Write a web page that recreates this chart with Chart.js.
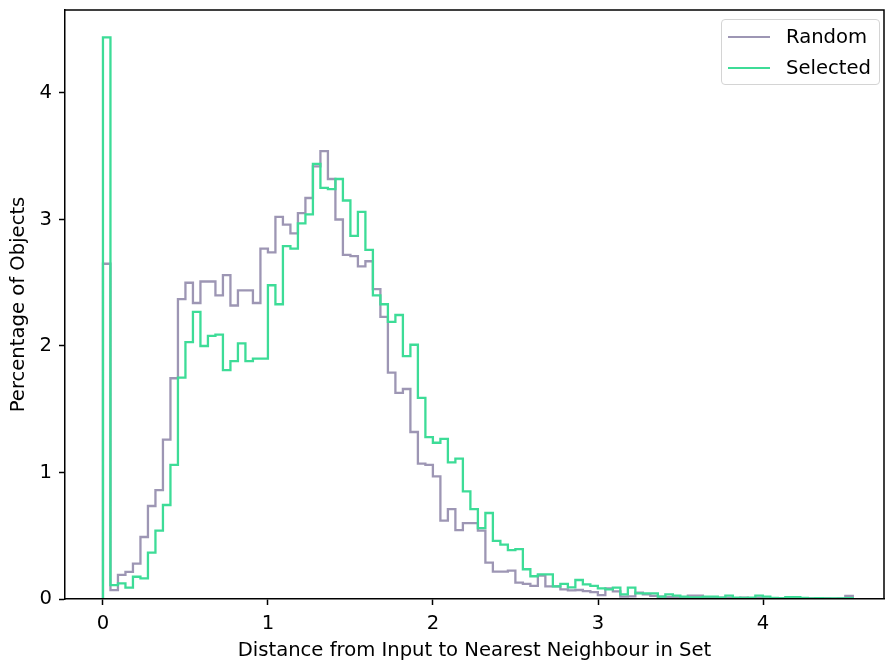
<!DOCTYPE html>
<html>
<head>
<meta charset="utf-8">
<script src="https://cdn.jsdelivr.net/npm/chart.js@4/dist/chart.umd.min.js"></script>
<style>
    body { margin: 0; background: #fff; }
    #wrap { position: relative; width: 885px; height: 664px; }
    #legend {
        position: absolute; left: 721px; top: 19px; width: 159px; height: 66px;
        box-sizing: border-box; border: 1px solid #d4d4d4; border-radius: 4px;
        background: rgba(255, 255, 255, 0.8);
        font-family: 'DejaVu Sans', sans-serif; font-size: 19.6px; color: #000;
    }
    #legend ul { list-style: none; margin: 0; padding: 5px 0 0 6px; }
    #legend li { display: flex; align-items: center; height: 23px; margin-bottom: 8px; }
</style>
</head>
<body>
<div id="wrap">
    <canvas id="chart" width="885" height="664"></canvas>
    <div id="legend"></div>
</div>
<script>
// histogram bins: 100 equal bins starting at 0
const BIN_START = 0;
const BIN_WIDTH = 0.04544;

// percentage of objects per bin
const RANDOM = [
    2.65, 0.07, 0.19, 0.215, 0.28, 0.49, 0.735, 0.86, 1.26, 1.745,
    2.37, 2.50, 2.34, 2.51, 2.51, 2.40, 2.56, 2.32, 2.44, 2.44,
    2.34, 2.77, 2.74, 3.02, 2.96, 2.89, 3.05, 3.17, 3.42, 3.54,
    3.32, 3.00, 2.72, 2.71, 2.63, 2.67, 2.45, 2.23, 1.79, 1.63,
    1.66, 1.32, 1.07, 1.06, 0.97, 0.62, 0.71, 0.545, 0.60, 0.60,
    0.54, 0.287, 0.216, 0.216, 0.224, 0.13, 0.119, 0.103, 0.184, 0.10,
    0.10, 0.076, 0.068, 0.071, 0.063, 0.055, 0.03, 0.084, 0.06, 0.018,
    0.02, 0.05, 0.037, 0.024, 0.018, 0.015, 0.012, 0.015, 0.026, 0.026,
    0.012, 0.008, 0.01, 0.008, 0.006, 0.01, 0.006, 0.008, 0.005, 0.006,
    0.004, 0.006, 0.004, 0.005, 0.004, 0.003, 0.004, 0.003, 0.004, 0.024
];
const SELECTED = [
    4.44, 0.11, 0.124, 0.09, 0.176, 0.163, 0.366, 0.54, 0.743, 1.06,
    1.75, 2.03, 2.27, 2.00, 2.08, 2.09, 1.81, 1.88, 2.02, 1.88,
    1.90, 1.90, 2.48, 2.33, 2.79, 2.77, 2.97, 3.04, 3.44, 3.25,
    3.24, 3.32, 3.15, 2.87, 3.06, 2.76, 2.40, 2.33, 2.19, 2.245,
    1.92, 2.01, 1.59, 1.28, 1.235, 1.265, 1.08, 1.11, 0.85, 0.71,
    0.56, 0.68, 0.46, 0.43, 0.387, 0.395, 0.235, 0.18, 0.195, 0.195,
    0.10, 0.12, 0.092, 0.15, 0.116, 0.103, 0.084, 0.076, 0.09, 0.037,
    0.09, 0.045, 0.045, 0.045, 0.018, 0.037, 0.026, 0.018, 0.012, 0.012,
    0.018, 0.018, 0.01, 0.026, 0.01, 0.008, 0.01, 0.026, 0.018, 0.008,
    0.006, 0.015, 0.015, 0.008, 0.005, 0.006, 0.004, 0.005, 0.004, 0.006
];

const X_TICKS = [0, 1, 2, 3, 4];
const Y_TICKS = [0, 1, 2, 3, 4];
const X_RANGE = [-0.23, 4.733];
const Y_RANGE = [0, 4.656];

const RANDOM_COLOR = '#9d96b4';
const SELECTED_COLOR = '#3ddc97';

// outline of a step histogram: up from the baseline, across each bin, back down
function stepPoints(values) {
    const edge = (i) => BIN_START + i * BIN_WIDTH;
    const pts = [{x: edge(0), y: 0}];
    values.forEach((v, i) => pts.push({x: edge(i), y: v}));
    pts.push({x: edge(values.length), y: 0});
    return pts;
}

const framePlugin = {
    id: 'frame',
    afterDatasetsDraw(chart) {
        const {ctx, chartArea} = chart;
        ctx.save();
        ctx.strokeStyle = '#000';
        ctx.lineWidth = 1.5;
        ctx.beginPath();
        ctx.moveTo(chartArea.left, chartArea.top);
        ctx.lineTo(chartArea.right, chartArea.top);
        ctx.lineTo(chartArea.right, chartArea.bottom);
        ctx.stroke();
        ctx.restore();
    }
};

const htmlLegendPlugin = {
    id: 'htmlLegend',
    afterUpdate(chart, args, options) {
        const container = document.getElementById(options.containerID);
        container.innerHTML = '';
        const ul = document.createElement('ul');
        const items = chart.options.plugins.legend.labels.generateLabels(chart)
            .sort((a, b) => a.datasetIndex - b.datasetIndex);

        items.forEach(item => {
            const li = document.createElement('li');

            const swatch = document.createElement('span');
            swatch.style.display = 'inline-block';
            swatch.style.width = '42px';
            swatch.style.height = '2px';
            swatch.style.background = item.strokeStyle;
            swatch.style.marginRight = '16px';

            const text = document.createElement('span');
            text.textContent = item.text;

            li.appendChild(swatch);
            li.appendChild(text);
            ul.appendChild(li);
        });
        container.appendChild(ul);
    }
};

Chart.defaults.font.family = "'DejaVu Sans', sans-serif";
Chart.defaults.font.size = 19.6;
Chart.defaults.color = '#000';

const axisStyle = {
    border: {display: true, color: '#000', width: 1.5, z: 1},
    grid: {drawOnChartArea: false, drawTicks: true, tickLength: 6, tickColor: '#000', tickWidth: 1.5}
};

new Chart(document.getElementById('chart'), {
    type: 'line',
    data: {
        datasets: [
            {
                label: 'Random',
                data: stepPoints(RANDOM),
                borderColor: RANDOM_COLOR,
                backgroundColor: RANDOM_COLOR,
                order: 1
            },
            {
                label: 'Selected',
                data: stepPoints(SELECTED),
                borderColor: SELECTED_COLOR,
                backgroundColor: SELECTED_COLOR,
                order: 0
            }
        ]
    },
    options: {
        responsive: false,
        animation: false,
        layout: {padding: {top: 10, right: 1, left: 0, bottom: 0}},
        elements: {
            point: {radius: 0},
            line: {stepped: true, borderWidth: 2.3, fill: false, tension: 0}
        },
        scales: {
            x: {
                type: 'linear',
                min: X_RANGE[0],
                max: X_RANGE[1],
                ...axisStyle,
                ticks: {padding: 7, maxRotation: 0},
                afterBuildTicks: (scale) => { scale.ticks = X_TICKS.map(v => ({value: v})); },
                afterFit: (scale) => {
                    scale.height = 65;
                    scale.paddingLeft = 0;
                    scale.paddingRight = 0;
                },
                title: {
                    display: true,
                    text: 'Distance from Input to Nearest Neighbour in Set',
                    padding: {top: 0, bottom: 1}
                }
            },
            y: {
                type: 'linear',
                min: Y_RANGE[0],
                max: Y_RANGE[1],
                ...axisStyle,
                ticks: {padding: 7},
                afterBuildTicks: (scale) => { scale.ticks = Y_TICKS.map(v => ({value: v})); },
                afterFit: (scale) => {
                    scale.width = 65;
                    scale.paddingTop = 0;
                    scale.paddingBottom = 0;
                },
                title: {
                    display: true,
                    text: 'Percentage of Objects',
                    padding: {top: 7, bottom: 0}
                }
            }
        },
        plugins: {
            legend: {display: false},
            tooltip: {enabled: false},
            htmlLegend: {containerID: 'legend'}
        }
    },
    plugins: [framePlugin, htmlLegendPlugin]
});
</script>
</body>
</html>
